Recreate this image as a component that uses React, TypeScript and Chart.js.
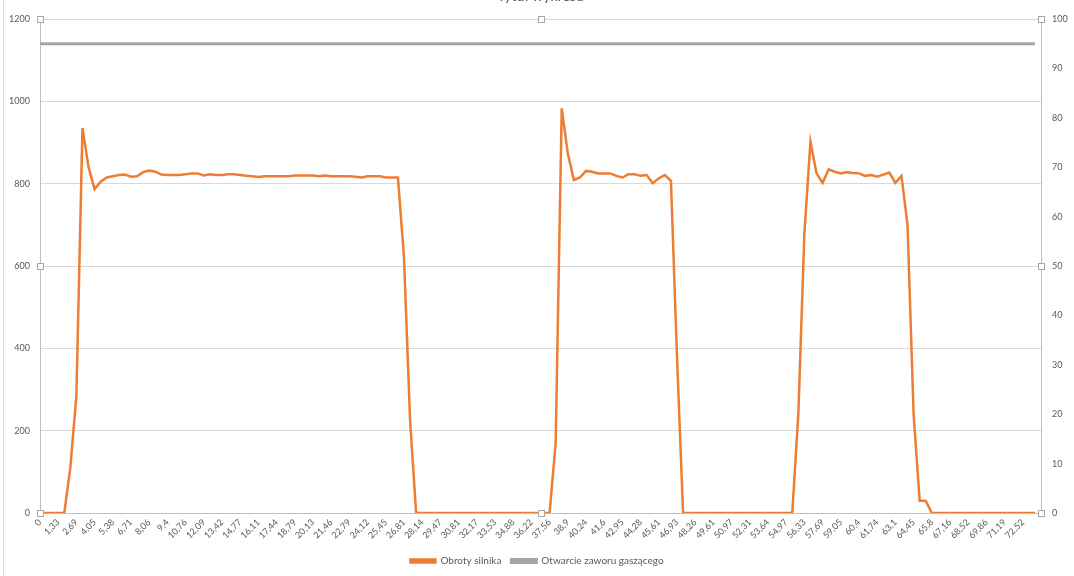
import { useEffect, useRef } from 'react';
import { Chart, registerables } from 'chart.js';

Chart.register(...registerables);

const chartTitle = 'Tytuł wykresu';
const seriesNames = ['Obroty silnika', 'Otwarcie zaworu gaszącego'];
const seriesColors = ['#ED7D31', '#A5A5A5'];

// visible x tick labels (every 3rd category)
const timeTickLabels = [
  '0', '1,33', '2,69', '4,05', '5,38', '6,71', '8,06', '9,4', '10,76', '12,09',
  '13,42', '14,77', '16,11', '17,44', '18,79', '20,13', '21,46', '22,79', '24,12', '25,45',
  '26,81', '28,14', '29,47', '30,81', '32,17', '33,53', '34,88', '36,22', '37,56', '38,9',
  '40,24', '41,6', '42,95', '44,28', '45,61', '46,93', '48,26', '49,61', '50,97', '52,31',
  '53,64', '54,97', '56,33', '57,69', '59,05', '60,4', '61,74', '63,1', '64,45', '65,8',
  '67,16', '68,52', '69,86', '71,19', '72,52',
];
const labelInterval = 3;
const categoryCount = 166;

// Obroty silnika (left axis)
const obrotySilnika = [
  0, 0, 0, 0, 0, 110, 285, 935, 840, 787,
  805, 815, 818, 821, 822, 817, 818, 828, 832, 829,
  822, 821, 821, 821, 823, 825, 825, 820, 823, 821,
  821, 823, 823, 821, 819, 818, 816, 818, 818, 818,
  818, 818, 820, 820, 820, 820, 818, 820, 818, 818,
  818, 818, 817, 815, 818, 818, 818, 815, 815, 815,
  620, 225, 0, 0, 0, 0, 0, 0, 0, 0,
  0, 0, 0, 0, 0, 0, 0, 0, 0, 0,
  0, 0, 0, 0, 0, 170, 983, 874, 809, 815,
  831, 829, 825, 825, 825, 819, 815, 823, 823, 819,
  821, 801, 813, 821, 807, 380, 0, 0, 0, 0,
  0, 0, 0, 0, 0, 0, 0, 0, 0, 0,
  0, 0, 0, 0, 0, 240, 680, 902, 825, 802,
  835, 829, 825, 828, 826, 825, 819, 821, 817, 822,
  827, 802, 819, 700, 240, 30, 30, 0, 0, 0,
  0, 0, 0, 0, 0, 0, 0, 0, 0, 0,
  0, 0, 0, 0, 0,
];

// Otwarcie zaworu gaszącego (right axis)
const otwarcieZaworu = [
  95, 95, 95, 95, 95, 95, 95, 95, 95, 95,
  95, 95, 95, 95, 95, 95, 95, 95, 95, 95,
  95, 95, 95, 95, 95, 95, 95, 95, 95, 95,
  95, 95, 95, 95, 95, 95, 95, 95, 95, 95,
  95, 95, 95, 95, 95, 95, 95, 95, 95, 95,
  95, 95, 95, 95, 95, 95, 95, 95, 95, 95,
  95, 95, 95, 95, 95, 95, 95, 95, 95, 95,
  95, 95, 95, 95, 95, 95, 95, 95, 95, 95,
  95, 95, 95, 95, 95, 95, 95, 95, 95, 95,
  95, 95, 95, 95, 95, 95, 95, 95, 95, 95,
  95, 95, 95, 95, 95, 95, 95, 95, 95, 95,
  95, 95, 95, 95, 95, 95, 95, 95, 95, 95,
  95, 95, 95, 95, 95, 95, 95, 95, 95, 95,
  95, 95, 95, 95, 95, 95, 95, 95, 95, 95,
  95, 95, 95, 95, 95, 95, 95, 95, 95, 95,
  95, 95, 95, 95, 95, 95, 95, 95, 95, 95,
  95, 95, 95, 95, 95,
];

const leftAxis = { min: 0, max: 1200, step: 200 };
const rightAxis = { min: 0, max: 100, step: 10 };

const textColor = '#595959';
const fontFamily = 'Lato, "Open Sans", sans-serif';

const categories = Array.from({ length: categoryCount }, (_, i) =>
  i % labelInterval === 0 && timeTickLabels[i / labelInterval] !== undefined
    ? timeTickLabels[i / labelInterval]
    : ''
);

const decorPlugin = {
  id: 'excelDecor',
  afterDraw(chart: any) {
    const { ctx, chartArea } = chart;
    const { left, right, top, bottom } = chartArea;
    ctx.save();
    // outer chart border on the left
    ctx.strokeStyle = '#d9d9d9';
    ctx.lineWidth = 1;
    ctx.beginPath();
    ctx.moveTo(3.5, 0);
    ctx.lineTo(3.5, 576);
    ctx.stroke();
    // title (cut off at the top)
    ctx.fillStyle = textColor;
    ctx.font = `14px ${fontFamily}`;
    ctx.textAlign = 'center';
    ctx.textBaseline = 'alphabetic';
    ctx.fillText(chartTitle, (left + right) / 2, 1);
    // selection handles
    const midX = (left + right) / 2;
    const midY = (top + bottom) / 2;
    const pts = [
      [left, top], [midX, top], [right, top],
      [left, midY], [right, midY],
      [left, bottom], [midX, bottom], [right, bottom],
    ];
    ctx.fillStyle = '#ffffff';
    ctx.strokeStyle = '#a6a6a6';
    for (const [x, y] of pts) {
      const px = Math.round(x) - 3 + 0.5;
      const py = Math.round(y) - 3 + 0.5;
      ctx.fillRect(px, py, 6, 6);
      ctx.strokeRect(px, py, 6, 6);
    }
    ctx.restore();
  },
};

export default function App() {
  const canvasRef = useRef<HTMLCanvasElement | null>(null);

  useEffect(() => {
    if (!canvasRef.current) return;
    const chart = new Chart(canvasRef.current, {
      type: 'line',
      data: {
        labels: categories,
        datasets: [
          {
            label: seriesNames[0],
            data: obrotySilnika,
            borderColor: seriesColors[0],
            backgroundColor: seriesColors[0],
            borderWidth: 2.5,
            pointRadius: 0,
            tension: 0,
            yAxisID: 'y',
          },
          {
            label: seriesNames[1],
            data: otwarcieZaworu,
            borderColor: seriesColors[1],
            backgroundColor: seriesColors[1],
            borderWidth: 3,
            pointRadius: 0,
            tension: 0,
            yAxisID: 'y1',
          },
        ],
      },
      options: {
        animation: false,
        responsive: false,
        devicePixelRatio: 1,
        layout: { padding: { top: 19, left: 0, right: 0, bottom: 0 } },
        plugins: {
          title: { display: false },
          tooltip: { enabled: false },
          legend: {
            position: 'bottom',
            labels: {
              boxWidth: 25,
              boxHeight: 3,
              padding: 10,
              color: textColor,
              font: { family: fontFamily, size: 10 },
            },
          },
        },
        scales: {
          x: {
            type: 'category',
            offset: false,
            grid: { display: false, drawTicks: false },
            border: { display: true, color: '#bfbfbf' },
            ticks: {
              autoSkip: false,
              minRotation: 45,
              maxRotation: 45,
              padding: 4,
              color: textColor,
              font: { family: fontFamily, size: 9 },
            },
            afterFit: (s: any) => {
              s.height = 33;
            },
          },
          y: {
            position: 'left',
            min: leftAxis.min,
            max: leftAxis.max,
            ticks: {
              stepSize: leftAxis.step,
              padding: 10,
              color: textColor,
              font: { family: fontFamily, size: 9 },
              callback: (v: any) => String(v),
            },
            grid: { color: '#d9d9d9', drawTicks: false },
            border: { display: true, color: '#bfbfbf' },
            afterFit: (s: any) => {
              s.width = 40;
            },
          },
          y1: {
            position: 'right',
            min: rightAxis.min,
            max: rightAxis.max,
            ticks: {
              stepSize: rightAxis.step,
              padding: 11,
              color: textColor,
              font: { family: fontFamily, size: 9 },
              callback: (v: any) => String(v),
            },
            grid: { drawOnChartArea: false, drawTicks: false },
            border: { display: true, color: '#bfbfbf' },
            afterFit: (s: any) => {
              s.width = 33;
            },
          },
        },
      },
      plugins: [decorPlugin],
    } as any);
    return () => chart.destroy();
  }, []);

  return (
    <div style={{ position: 'fixed', left: 0, top: 0, width: 1074, height: 576, background: '#ffffff' }}>
      <canvas ref={canvasRef} width={1074} height={576} style={{ display: 'block' }} />
    </div>
  );
}
